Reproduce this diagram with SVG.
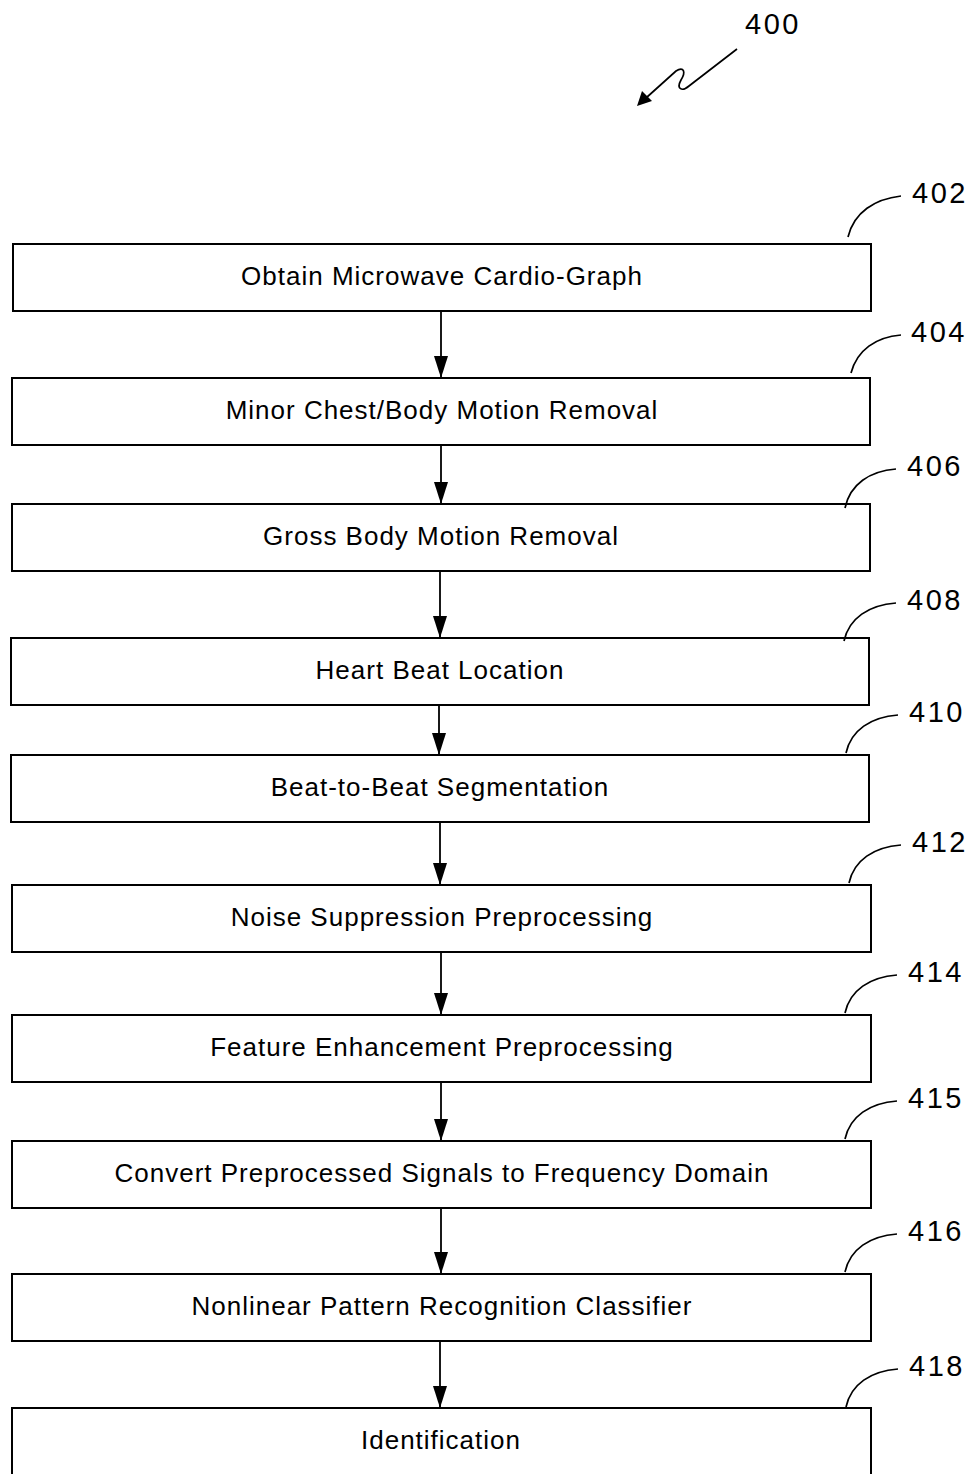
<svg xmlns="http://www.w3.org/2000/svg" width="973" height="1474" viewBox="0 0 973 1474">
<style>
.box{fill:#fff;stroke:#000;stroke-width:2}
.t{font-family:"Liberation Sans",Arial,sans-serif;font-size:26px;letter-spacing:1px;text-anchor:middle;fill:#000}
.ref{font-family:"Liberation Sans",Arial,sans-serif;font-size:29px;letter-spacing:2.5px;fill:#000}
.lead{fill:none;stroke:#000;stroke-width:1.7}
.con{stroke:#000;stroke-width:1.8;fill:none}
</style>
<defs>
<marker id="ah" markerWidth="22" markerHeight="14" refX="22" refY="7" orient="auto" markerUnits="userSpaceOnUse" viewBox="0 0 22 14">
<path d="M0,0 L22,7 L0,14 Z" fill="#000"/>
</marker>
</defs>
<rect width="973" height="1474" fill="#fff"/>
<g id="label400">
<text class="ref" x="745" y="34">400</text>
<path class="lead" d="M737,49 L689,86 C682,92 676,89 681,80 C686,72 684,66 676,71 L646,98"/>
<path d="M637,106 L642,91 L652,101 Z" fill="#000"/>
</g>
<g id="connectors">
<line class="con" x1="441" y1="311" x2="441" y2="378" marker-end="url(#ah)"/>
<line class="con" x1="441" y1="445" x2="441" y2="504" marker-end="url(#ah)"/>
<line class="con" x1="440" y1="571" x2="440" y2="638" marker-end="url(#ah)"/>
<line class="con" x1="439" y1="705" x2="439" y2="755" marker-end="url(#ah)"/>
<line class="con" x1="440" y1="822" x2="440" y2="885" marker-end="url(#ah)"/>
<line class="con" x1="441" y1="952" x2="441" y2="1015" marker-end="url(#ah)"/>
<line class="con" x1="441" y1="1082" x2="441" y2="1141" marker-end="url(#ah)"/>
<line class="con" x1="441" y1="1208" x2="441" y2="1274" marker-end="url(#ah)"/>
<line class="con" x1="440" y1="1341" x2="440" y2="1408" marker-end="url(#ah)"/>
</g>
<g id="n402">
<rect class="box" x="13" y="244" width="858" height="67"/>
<text class="t" x="442" y="285">Obtain Microwave Cardio-Graph</text>
<path class="lead" d="M848,237 C854,212 875,199 901,196"/>
<text class="ref" x="912" y="203">402</text>
</g>
<g id="n404">
<rect class="box" x="12" y="378" width="858" height="67"/>
<text class="t" x="442" y="419">Minor Chest/Body Motion Removal</text>
<path class="lead" d="M851,373 C857,350 876,337 901,335"/>
<text class="ref" x="911" y="342">404</text>
</g>
<g id="n406">
<rect class="box" x="12" y="504" width="858" height="67"/>
<text class="t" x="441" y="545">Gross Body Motion Removal</text>
<path class="lead" d="M845,508 C850,484 870,471 896,469"/>
<text class="ref" x="907" y="476">406</text>
</g>
<g id="n408">
<rect class="box" x="11" y="638" width="858" height="67"/>
<text class="t" x="440" y="679">Heart Beat Location</text>
<path class="lead" d="M844,641 C849,618 869,605 896,603"/>
<text class="ref" x="907" y="610">408</text>
</g>
<g id="n410">
<rect class="box" x="11" y="755" width="858" height="67"/>
<text class="t" x="440" y="796">Beat-to-Beat Segmentation</text>
<path class="lead" d="M846,753 C851,730 871,717 898,715"/>
<text class="ref" x="909" y="722">410</text>
</g>
<g id="n412">
<rect class="box" x="12" y="885" width="859" height="67"/>
<text class="t" x="442" y="926">Noise Suppression Preprocessing</text>
<path class="lead" d="M849,883 C854,860 874,847 901,845"/>
<text class="ref" x="912" y="852">412</text>
</g>
<g id="n414">
<rect class="box" x="12" y="1015" width="859" height="67"/>
<text class="t" x="442" y="1056">Feature Enhancement Preprocessing</text>
<path class="lead" d="M845,1013 C850,990 870,977 897,975"/>
<text class="ref" x="908" y="982">414</text>
</g>
<g id="n415">
<rect class="box" x="12" y="1141" width="859" height="67"/>
<text class="t" x="442" y="1182">Convert Preprocessed Signals to Frequency Domain</text>
<path class="lead" d="M845,1139 C850,1116 870,1103 897,1101"/>
<text class="ref" x="908" y="1108">415</text>
</g>
<g id="n416">
<rect class="box" x="12" y="1274" width="859" height="67"/>
<text class="t" x="442" y="1315">Nonlinear Pattern Recognition Classifier</text>
<path class="lead" d="M845,1272 C850,1249 870,1236 897,1234"/>
<text class="ref" x="908" y="1241">416</text>
</g>
<g id="n418">
<rect class="box" x="12" y="1408" width="859" height="80"/>
<text class="t" x="441" y="1449">Identification</text>
<path class="lead" d="M846,1407 C851,1384 871,1371 898,1369"/>
<text class="ref" x="909" y="1376">418</text>
</g>
</svg>
